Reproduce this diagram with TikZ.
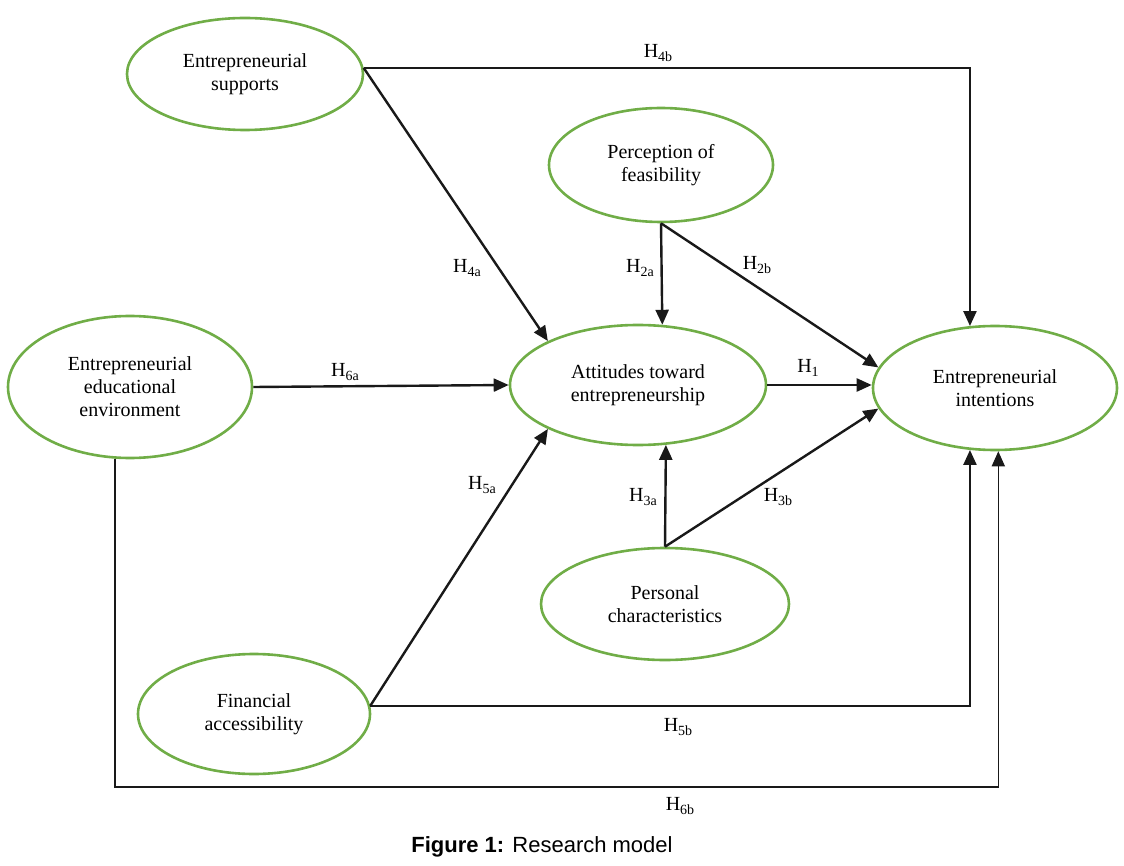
\documentclass[tikz,border=0pt]{standalone}
\usepackage{fontspec}
\setmainfont{Liberation Serif}
\newfontfamily\capfont{Liberation Sans}
\usetikzlibrary{arrows.meta,shapes.geometric}
\newcommand{\Hyp}[1]{H\raisebox{-0.35ex}{\fontsize{14}{14}\selectfont #1}}
\definecolor{egreen}{RGB}{112,173,71}
\definecolor{lnk}{RGB}{25,25,25}
\begin{document}
\begin{tikzpicture}[x=1pt,y=-1pt,
  var/.style={ellipse,draw=egreen,line width=2.6pt,inner sep=0pt,align=center,
    font=\fontsize{20}{23}\selectfont},
  link/.style={line width=2.4pt,draw=lnk,-{Triangle[length=15pt,width=13pt]}},
  lab/.style={font=\fontsize{20}{23}\selectfont,inner sep=0pt}]
\useasboundingbox (0,0) rectangle (1124,866);
\node[var,minimum width=236pt,minimum height=112pt] (sup) at (245,74) {Entrepreneurial\\supports};
\node[var,minimum width=224pt,minimum height=114pt] (fea) at (661,165) {Perception of\\feasibility};
\node[var,minimum width=244pt,minimum height=142pt] (edu) at (130,387) {Entrepreneurial\\educational\\environment};
\node[var,minimum width=256pt,minimum height=120pt] (att) at (638,385) {Attitudes toward\\entrepreneurship};
\node[var,minimum width=244pt,minimum height=124pt] (int) at (995,388) {Entrepreneurial\\intentions};
\node[var,minimum width=248pt,minimum height=112pt] (per) at (665,604) {Personal\\characteristics};
\node[var,minimum width=232pt,minimum height=120pt] (fin) at (254,714) {Financial\\accessibility};

\draw[link] (sup.3) -| (int.112);
\draw[link] (sup.3) -- (att.154);
\draw[link] (fea.south) -- (att.68);
\draw[link] (fea.south) -- (int.170);
\draw[link] (edu.east) -- (att.west);
\draw[link] (att.east) -- (att.east -| int.west);
\draw[link] (per.north) -- (att.-65);
\draw[link] (per.north) -- (int.190);
\draw[link] (fin.4) -- (att.-154);
\draw[link] (fin.4) -| (int.-112);
\coordinate (bot) at (0,787);
\draw[link,line width=1.5pt] (edu.-102) |- (int.-87 |- bot) -- (int.-87);

\node[lab] (l4b) at (658,53) {\Hyp{4b}};
\node[lab] (l4a) at (467,268) {\Hyp{4a}};
\node[lab] (l2a) at (640,268) {\Hyp{2a}};
\node[lab] (l2b) at (757,265) {\Hyp{2b}};
\node[lab] (l6a) at (345,372) {\Hyp{6a}};
\node[lab] (l1) at (808,368) {\Hyp{1}};
\node[lab] (l5a) at (482,485) {\Hyp{5a}};
\node[lab] (l3a) at (643,497) {\Hyp{3a}};
\node[lab] (l3b) at (778,497) {\Hyp{3b}};
\node[lab] (l5b) at (678,727) {\Hyp{5b}};
\node[lab] (l6b) at (680,806) {\Hyp{6b}};
\node[font=\capfont\fontsize{22}{26}\selectfont,inner sep=0pt] (cap) at (542,847) {\textbf{Figure 1:} Research model};
\end{tikzpicture}
\end{document}
